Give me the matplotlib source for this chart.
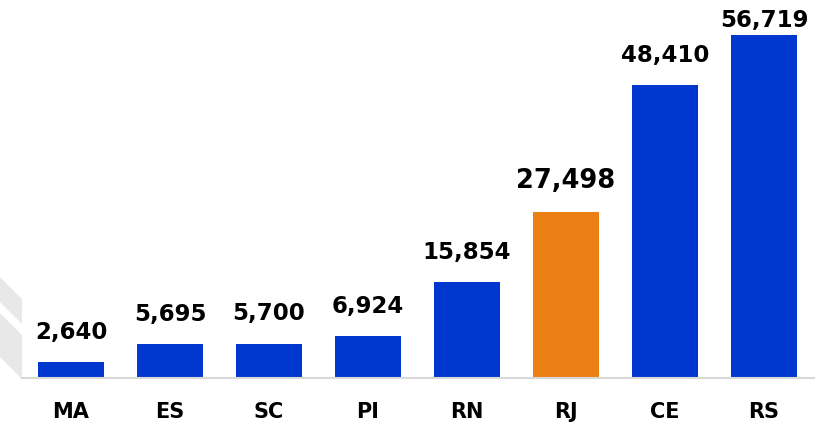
import matplotlib.pyplot as plt
from matplotlib.patches import Polygon

states = ['MA', 'ES', 'SC', 'PI', 'RN', 'RJ', 'CE', 'RS']
values = [2640, 5695, 5700, 6924, 15854, 27498, 48410, 56719]
highlight = 'RJ'

blue = '#0038CF'
orange = '#EC7F14'

fig = plt.figure(figsize=(8.19, 4.22), dpi=100)
ax = fig.add_axes([21.5 / 819, 44 / 422, 792 / 819, 378 / 422])
ax.set_zorder(2)

# faint diagonal stripes at the left edge (pixel coords, y from top)
for top, bot in ((277, 302), (313, 357)):
    pts = [(0, top), (22, top + 22), (22, bot + 22), (0, bot)]
    pts = [(px / 819, 1 - py / 422) for px, py in pts]
    fig.patches.append(Polygon(pts, closed=True, transform=fig.transFigure,
                               facecolor='#E8E8E8', edgecolor='none', zorder=0))

colors = [orange if s == highlight else blue for s in states]
x = range(len(states))
ax.bar(x, values, width=0.67, color=colors, zorder=2)

for i, (s, v) in enumerate(zip(states, values)):
    big = s == highlight
    offset = 2 if i == len(states) - 1 else 13
    ax.annotate(f'{v:,}', (i, v), xytext=(0, offset), textcoords='offset points',
                ha='center', va='bottom', fontsize=18.5 if big else 16.5,
                fontweight='bold', color='black')

ax.set_xlim(-0.5, len(states) - 0.5)
ax.set_ylim(0, 62500)
ax.set_xticks(list(x))
ax.set_xticklabels(states, fontsize=15, fontweight='bold')
ax.tick_params(axis='x', length=0, pad=17)
ax.set_yticks([])
for side in ('top', 'right', 'left'):
    ax.spines[side].set_visible(False)
ax.spines['bottom'].set_color('#D9D9D9')
ax.spines['bottom'].set_linewidth(1.5)
ax.patch.set_alpha(0)

fig.savefig('out.png', dpi=100)
